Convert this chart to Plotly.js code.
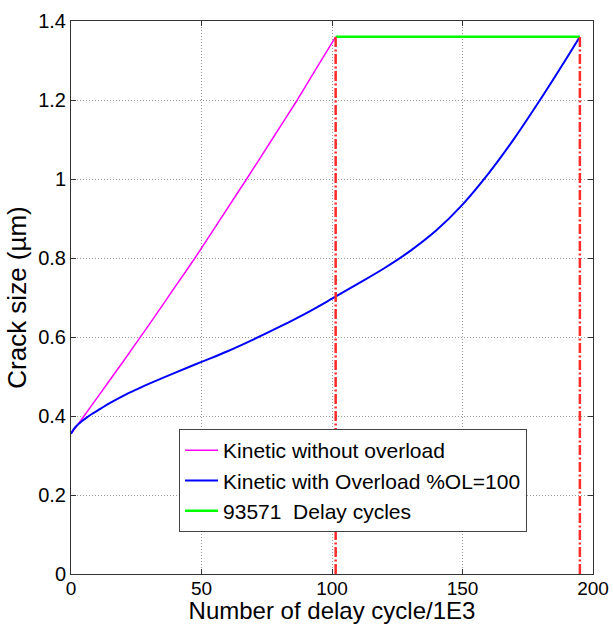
<!DOCTYPE html>
<html>
<head>
<meta charset="utf-8">
<script src="https://cdn.plot.ly/plotly-3.0.1.min.js"></script>
<style>html,body{margin:0;padding:0;background:#fff;}#chart{width:613px;height:624px;}</style>
</head>
<body>
<div id="chart"></div>
<script>
// Kinetic without overload (magenta)
const noOverloadX = [0, 5, 10, 20, 30, 40, 47.5, 57, 67.3, 77, 86.7, 94, 101.4];
const noOverloadY = [0.355, 0.400, 0.446, 0.538, 0.632, 0.728, 0.800, 0.896, 1.000, 1.100, 1.200, 1.280, 1.360];
// Kinetic with Overload %OL=100 (blue)
const overloadX = [0, 1, 2, 4, 6, 8, 10, 15, 20, 25, 30, 40, 50, 60, 70, 80, 90, 100, 110, 120, 130, 140, 150, 160, 170, 180, 190, 194.97];
const overloadY = [0.355, 0.366, 0.374, 0.386, 0.396, 0.405, 0.413, 0.433, 0.451, 0.467, 0.482, 0.510, 0.537, 0.564, 0.594, 0.626, 0.660, 0.697, 0.735, 0.774, 0.818, 0.870, 0.935, 1.014, 1.104, 1.203, 1.307, 1.360];
// Delay region (green) and markers (red)
const delayStart = 101.4;
const delayEnd = 194.97;
const finalCrack = 1.36;
const delayLabel = "93571  Delay cycles";
const xTicks = [0, 50, 100, 150, 200];
const yTicks = [0, 0.2, 0.4, 0.6, 0.8, 1, 1.2, 1.4];
const yTickText = ["0", "0.2", "0.4", "0.6", "0.8", "1", "1.2", "1.4"];

const font = "Arial, 'Liberation Sans', sans-serif";
const redDash = '10px,2.5px,2px,2.5px';
const traces = [
  {x: noOverloadX, y: noOverloadY, mode: 'lines', name: 'Kinetic without overload', legendgroup: 'a',
   line: {color: '#ff00ff', width: 1.5, shape: 'spline', smoothing: 0.6}},
  {x: overloadX, y: overloadY, mode: 'lines', name: 'Kinetic with Overload %OL=100', legendgroup: 'b',
   line: {color: '#0000ff', width: 2, shape: 'spline', smoothing: 1}},
  {x: [delayStart, delayEnd], y: [finalCrack, finalCrack], mode: 'lines', name: delayLabel, legendgroup: 'c',
   line: {color: '#00ff00', width: 2.5}},
  {x: [delayStart, delayStart], y: [0, finalCrack], mode: 'lines', showlegend: false,
   line: {color: '#ff2a2a', width: 2.5, dash: redDash}},
  {x: [delayEnd, delayEnd], y: [0, finalCrack], mode: 'lines', showlegend: false,
   line: {color: '#ff2a2a', width: 2.5, dash: redDash}}
];

const axisCommon = {
  showgrid: true, gridcolor: '#999', griddash: '1px,2px', gridwidth: 1,
  showline: true, linecolor: '#333', linewidth: 1, mirror: 'ticks',
  ticks: 'inside', ticklen: 5, tickcolor: '#333',
  zeroline: false, tickfont: {size: 20}
};

const layout = {
  width: 613, height: 624,
  margin: {l: 71, r: 20, t: 21, b: 50},
  paper_bgcolor: '#fff', plot_bgcolor: '#fff',
  font: {family: font, color: '#000', size: 20},
  showlegend: true,
  legend: {x: 0.207, y: 0.262, xanchor: 'left', yanchor: 'top',
    bgcolor: '#fff', bordercolor: '#444', borderwidth: 1,
    font: {family: font, size: 21, color: '#000'},
    itemwidth: 33, traceorder: 'grouped', tracegroupgap: 0},
  xaxis: Object.assign({}, axisCommon, {range: [0, 200], tickvals: xTicks, ticktext: xTicks.map(String),
    ticklabelstandoff: -3, tickfont: {size: 19},
    title: {text: 'Number of delay cycle/1E3', font: {size: 24}, standoff: 14}}),
  yaxis: Object.assign({}, axisCommon, {range: [0, 1.4], tickvals: yTicks, ticktext: yTickText,
    title: {text: 'Crack size (µm)', font: {size: 26}, standoff: 4}})
};

Plotly.newPlot('chart', traces, layout, {displayModeBar: false, staticPlot: true});
</script>
</body>
</html>
